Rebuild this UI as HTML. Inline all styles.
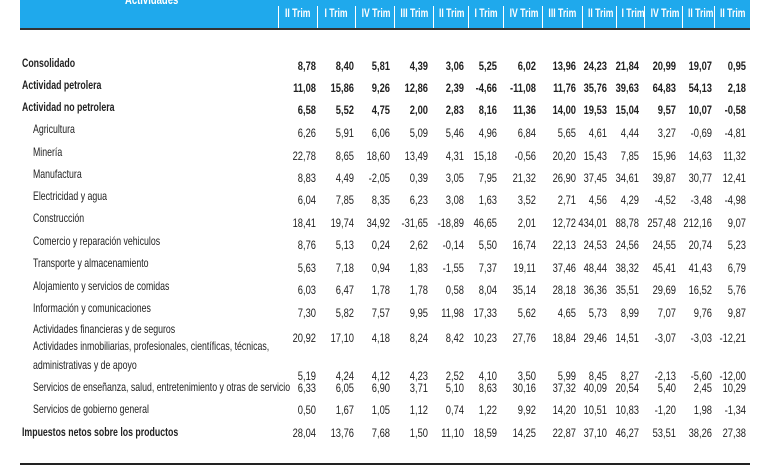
<!DOCTYPE html>
<html><head><meta charset="utf-8"><style>
body{margin:0;width:780px;height:470px;background:#fff;position:relative;overflow:hidden;font-family:"Liberation Sans",sans-serif;color:#222}
.hdr{position:absolute;left:20px;top:0;width:730px;height:28px;background:#1fa9ec}
.hl{position:absolute;left:20px;top:28px;width:730px;height:2px;background:#333}
.h{position:absolute;top:6px;height:22px;line-height:14px;color:#fff;font-weight:bold;font-size:12px;text-align:center;border-left:1px solid #fff;}
.h span{display:inline-block;transform:scaleX(.72);white-space:nowrap}
.t{position:absolute;font-size:12px;line-height:14px;white-space:nowrap;transform:scaleX(.73);transform-origin:left center}
.n{position:absolute;width:60px;font-size:12px;line-height:14px;text-align:right;transform:scaleX(.78);transform-origin:right center}
.b{font-weight:bold}
.bot{position:absolute;left:20px;top:463px;width:730px;height:2px;background:#222}
</style></head><body>
<div class="hdr"></div><div class="hl"></div>
<div class="t b" style="left:125px;top:-7px;color:#fff;font-size:13px">Actividades</div>
<div class="h" style="left:278px;width:38px"><span>II Trim</span></div>
<div class="h" style="left:317px;width:37px"><span>I Trim</span></div>
<div class="h" style="left:355px;width:38px"><span>IV Trim</span></div>
<div class="h" style="left:394px;width:38px"><span>III Trim</span></div>
<div class="h" style="left:433px;width:34px"><span>II Trim</span></div>
<div class="h" style="left:468px;width:34px"><span>I Trim</span></div>
<div class="h" style="left:503px;width:38px"><span>IV Trim</span></div>
<div class="h" style="left:542px;width:39px"><span>III Trim</span></div>
<div class="h" style="left:582px;width:33px"><span>II Trim</span></div>
<div class="h" style="left:616px;width:27px"><span>I Trim</span></div>
<div class="h" style="left:644px;width:37px"><span>IV Trim</span></div>
<div class="h" style="left:682px;width:31px"><span>II Trim</span></div>
<div class="h" style="left:714px;width:34px"><span>II Trim</span></div>

<div class="t b" style="left:22px;top:56px">Consolidado</div>
<div class="t b" style="left:22px;top:78px">Actividad petrolera</div>
<div class="t b" style="left:22px;top:100px">Actividad no petrolera</div>
<div class="t" style="left:33px;top:122px">Agricultura</div>
<div class="t" style="left:33px;top:145px">Minería</div>
<div class="t" style="left:33px;top:167px">Manufactura</div>
<div class="t" style="left:33px;top:189px">Electricidad y agua</div>
<div class="t" style="left:33px;top:211px">Construcción</div>
<div class="t" style="left:33px;top:234px">Comercio y reparación vehiculos</div>
<div class="t" style="left:33px;top:256px">Transporte y almacenamiento</div>
<div class="t" style="left:33px;top:279px">Alojamiento y servicios de comidas</div>
<div class="t" style="left:33px;top:301px">Información y comunicaciones</div>
<div class="t" style="left:33px;top:322px">Actividades financieras y de seguros</div>
<div class="t" style="left:33px;top:339px">Actividades inmobiliarias, profesionales, científicas, técnicas,</div>
<div class="t" style="left:33px;top:358px">administrativas y de apoyo</div>
<div class="t" style="left:33px;top:380px">Servicios de enseñanza, salud, entretenimiento y otras de servicio</div>
<div class="t" style="left:33px;top:402px">Servicios de gobierno general</div>
<div class="t b" style="left:22px;top:425px">Impuestos netos sobre los productos</div>

<div class="bot"></div>
<div style="position:absolute;left:0;top:0">
<div style="position:absolute;top:59px" class="b">
<span class="n" style="left:256px">8,78</span><span class="n" style="left:294px">8,40</span><span class="n" style="left:330px">5,81</span><span class="n" style="left:368px">4,39</span><span class="n" style="left:404px">3,06</span><span class="n" style="left:437px">5,25</span><span class="n" style="left:476px">6,02</span><span class="n" style="left:516px">13,96</span><span class="n" style="left:547px">24,23</span><span class="n" style="left:579px">21,84</span><span class="n" style="left:616px">20,99</span><span class="n" style="left:652px">19,07</span><span class="n" style="left:686px">0,95</span></div>
<div style="position:absolute;top:81px" class="b">
<span class="n" style="left:256px">11,08</span><span class="n" style="left:294px">15,86</span><span class="n" style="left:330px">9,26</span><span class="n" style="left:368px">12,86</span><span class="n" style="left:404px">2,39</span><span class="n" style="left:437px">-4,66</span><span class="n" style="left:476px">-11,08</span><span class="n" style="left:516px">11,76</span><span class="n" style="left:547px">35,76</span><span class="n" style="left:579px">39,63</span><span class="n" style="left:616px">64,83</span><span class="n" style="left:652px">54,13</span><span class="n" style="left:686px">2,18</span></div>
<div style="position:absolute;top:103px" class="b">
<span class="n" style="left:256px">6,58</span><span class="n" style="left:294px">5,52</span><span class="n" style="left:330px">4,75</span><span class="n" style="left:368px">2,00</span><span class="n" style="left:404px">2,83</span><span class="n" style="left:437px">8,16</span><span class="n" style="left:476px">11,36</span><span class="n" style="left:516px">14,00</span><span class="n" style="left:547px">19,53</span><span class="n" style="left:579px">15,04</span><span class="n" style="left:616px">9,57</span><span class="n" style="left:652px">10,07</span><span class="n" style="left:686px">-0,58</span></div>
<div style="position:absolute;top:126px">
<span class="n" style="left:256px">6,26</span><span class="n" style="left:294px">5,91</span><span class="n" style="left:330px">6,06</span><span class="n" style="left:368px">5,09</span><span class="n" style="left:404px">5,46</span><span class="n" style="left:437px">4,96</span><span class="n" style="left:476px">6,84</span><span class="n" style="left:516px">5,65</span><span class="n" style="left:547px">4,61</span><span class="n" style="left:579px">4,44</span><span class="n" style="left:616px">3,27</span><span class="n" style="left:652px">-0,69</span><span class="n" style="left:686px">-4,81</span></div>
<div style="position:absolute;top:149px">
<span class="n" style="left:256px">22,78</span><span class="n" style="left:294px">8,65</span><span class="n" style="left:330px">18,60</span><span class="n" style="left:368px">13,49</span><span class="n" style="left:404px">4,31</span><span class="n" style="left:437px">15,18</span><span class="n" style="left:476px">-0,56</span><span class="n" style="left:516px">20,20</span><span class="n" style="left:547px">15,43</span><span class="n" style="left:579px">7,85</span><span class="n" style="left:616px">15,96</span><span class="n" style="left:652px">14,63</span><span class="n" style="left:686px">11,32</span></div>
<div style="position:absolute;top:171px">
<span class="n" style="left:256px">8,83</span><span class="n" style="left:294px">4,49</span><span class="n" style="left:330px">-2,05</span><span class="n" style="left:368px">0,39</span><span class="n" style="left:404px">3,05</span><span class="n" style="left:437px">7,95</span><span class="n" style="left:476px">21,32</span><span class="n" style="left:516px">26,90</span><span class="n" style="left:547px">37,45</span><span class="n" style="left:579px">34,61</span><span class="n" style="left:616px">39,87</span><span class="n" style="left:652px">30,77</span><span class="n" style="left:686px">12,41</span></div>
<div style="position:absolute;top:193px">
<span class="n" style="left:256px">6,04</span><span class="n" style="left:294px">7,85</span><span class="n" style="left:330px">8,35</span><span class="n" style="left:368px">6,23</span><span class="n" style="left:404px">3,08</span><span class="n" style="left:437px">1,63</span><span class="n" style="left:476px">3,52</span><span class="n" style="left:516px">2,71</span><span class="n" style="left:547px">4,56</span><span class="n" style="left:579px">4,29</span><span class="n" style="left:616px">-4,52</span><span class="n" style="left:652px">-3,48</span><span class="n" style="left:686px">-4,98</span></div>
<div style="position:absolute;top:216px">
<span class="n" style="left:256px">18,41</span><span class="n" style="left:294px">19,74</span><span class="n" style="left:330px">34,92</span><span class="n" style="left:368px">-31,65</span><span class="n" style="left:404px">-18,89</span><span class="n" style="left:437px">46,65</span><span class="n" style="left:476px">2,01</span><span class="n" style="left:516px">12,72</span><span class="n" style="left:547px">434,01</span><span class="n" style="left:579px">88,78</span><span class="n" style="left:616px">257,48</span><span class="n" style="left:652px">212,16</span><span class="n" style="left:686px">9,07</span></div>
<div style="position:absolute;top:238px">
<span class="n" style="left:256px">8,76</span><span class="n" style="left:294px">5,13</span><span class="n" style="left:330px">0,24</span><span class="n" style="left:368px">2,62</span><span class="n" style="left:404px">-0,14</span><span class="n" style="left:437px">5,50</span><span class="n" style="left:476px">16,74</span><span class="n" style="left:516px">22,13</span><span class="n" style="left:547px">24,53</span><span class="n" style="left:579px">24,56</span><span class="n" style="left:616px">24,55</span><span class="n" style="left:652px">20,74</span><span class="n" style="left:686px">5,23</span></div>
<div style="position:absolute;top:261px">
<span class="n" style="left:256px">5,63</span><span class="n" style="left:294px">7,18</span><span class="n" style="left:330px">0,94</span><span class="n" style="left:368px">1,83</span><span class="n" style="left:404px">-1,55</span><span class="n" style="left:437px">7,37</span><span class="n" style="left:476px">19,11</span><span class="n" style="left:516px">37,46</span><span class="n" style="left:547px">48,44</span><span class="n" style="left:579px">38,32</span><span class="n" style="left:616px">45,41</span><span class="n" style="left:652px">41,43</span><span class="n" style="left:686px">6,79</span></div>
<div style="position:absolute;top:283px">
<span class="n" style="left:256px">6,03</span><span class="n" style="left:294px">6,47</span><span class="n" style="left:330px">1,78</span><span class="n" style="left:368px">1,78</span><span class="n" style="left:404px">0,58</span><span class="n" style="left:437px">8,04</span><span class="n" style="left:476px">35,14</span><span class="n" style="left:516px">28,18</span><span class="n" style="left:547px">36,36</span><span class="n" style="left:579px">35,51</span><span class="n" style="left:616px">29,69</span><span class="n" style="left:652px">16,52</span><span class="n" style="left:686px">5,76</span></div>
<div style="position:absolute;top:306px">
<span class="n" style="left:256px">7,30</span><span class="n" style="left:294px">5,82</span><span class="n" style="left:330px">7,57</span><span class="n" style="left:368px">9,95</span><span class="n" style="left:404px">11,98</span><span class="n" style="left:437px">17,33</span><span class="n" style="left:476px">5,62</span><span class="n" style="left:516px">4,65</span><span class="n" style="left:547px">5,73</span><span class="n" style="left:579px">8,99</span><span class="n" style="left:616px">7,07</span><span class="n" style="left:652px">9,76</span><span class="n" style="left:686px">9,87</span></div>
<div style="position:absolute;top:331px">
<span class="n" style="left:256px">20,92</span><span class="n" style="left:294px">17,10</span><span class="n" style="left:330px">4,18</span><span class="n" style="left:368px">8,24</span><span class="n" style="left:404px">8,42</span><span class="n" style="left:437px">10,23</span><span class="n" style="left:476px">27,76</span><span class="n" style="left:516px">18,84</span><span class="n" style="left:547px">29,46</span><span class="n" style="left:579px">14,51</span><span class="n" style="left:616px">-3,07</span><span class="n" style="left:652px">-3,03</span><span class="n" style="left:686px">-12,21</span></div>
<div style="position:absolute;top:369px">
<span class="n" style="left:256px">5,19</span><span class="n" style="left:294px">4,24</span><span class="n" style="left:330px">4,12</span><span class="n" style="left:368px">4,23</span><span class="n" style="left:404px">2,52</span><span class="n" style="left:437px">4,10</span><span class="n" style="left:476px">3,50</span><span class="n" style="left:516px">5,99</span><span class="n" style="left:547px">8,45</span><span class="n" style="left:579px">8,27</span><span class="n" style="left:616px">-2,13</span><span class="n" style="left:652px">-5,60</span><span class="n" style="left:686px">-12,00</span></div>
<div style="position:absolute;top:381px">
<span class="n" style="left:256px">6,33</span><span class="n" style="left:294px">6,05</span><span class="n" style="left:330px">6,90</span><span class="n" style="left:368px">3,71</span><span class="n" style="left:404px">5,10</span><span class="n" style="left:437px">8,63</span><span class="n" style="left:476px">30,16</span><span class="n" style="left:516px">37,32</span><span class="n" style="left:547px">40,09</span><span class="n" style="left:579px">20,54</span><span class="n" style="left:616px">5,40</span><span class="n" style="left:652px">2,45</span><span class="n" style="left:686px">10,29</span></div>
<div style="position:absolute;top:403px">
<span class="n" style="left:256px">0,50</span><span class="n" style="left:294px">1,67</span><span class="n" style="left:330px">1,05</span><span class="n" style="left:368px">1,12</span><span class="n" style="left:404px">0,74</span><span class="n" style="left:437px">1,22</span><span class="n" style="left:476px">9,92</span><span class="n" style="left:516px">14,20</span><span class="n" style="left:547px">10,51</span><span class="n" style="left:579px">10,83</span><span class="n" style="left:616px">-1,20</span><span class="n" style="left:652px">1,98</span><span class="n" style="left:686px">-1,34</span></div>
<div style="position:absolute;top:426px">
<span class="n" style="left:256px">28,04</span><span class="n" style="left:294px">13,76</span><span class="n" style="left:330px">7,68</span><span class="n" style="left:368px">1,50</span><span class="n" style="left:404px">11,10</span><span class="n" style="left:437px">18,59</span><span class="n" style="left:476px">14,25</span><span class="n" style="left:516px">22,87</span><span class="n" style="left:547px">37,10</span><span class="n" style="left:579px">46,27</span><span class="n" style="left:616px">53,51</span><span class="n" style="left:652px">38,26</span><span class="n" style="left:686px">27,38</span></div>
</div>
</body></html>
